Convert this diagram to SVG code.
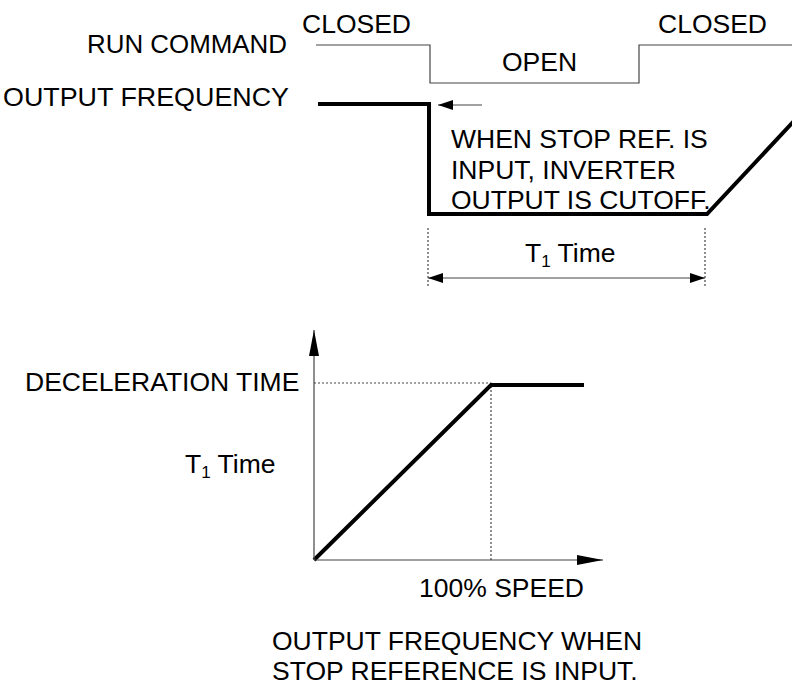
<svg xmlns="http://www.w3.org/2000/svg" width="792" height="686" viewBox="0 0 792 686">
<defs>
<style>
text{font-family:"Liberation Sans",Arial,sans-serif;font-size:26.5px;fill:#000}
.thin{fill:none;stroke:#444;stroke-width:1.2}
.thick{fill:none;stroke:#000;stroke-width:4;stroke-linejoin:miter}
.dot{fill:none;stroke:#444;stroke-width:1.2;stroke-dasharray:2 2}
.sub{font-size:17px}
</style>
<marker id="ah" markerUnits="userSpaceOnUse" markerWidth="16" markerHeight="12" refX="15" refY="5" orient="auto-start-reverse" viewBox="0 0 16 10">
<path d="M0,0 L15,5 L0,10 Z" fill="#000"/>
</marker>
<marker id="ax" markerUnits="userSpaceOnUse" markerWidth="28" markerHeight="12" refX="26" refY="5" orient="auto" viewBox="0 0 28 10">
<path d="M0,0 L26,5 L0,10 Z" fill="#000"/>
</marker>
</defs>
<rect width="792" height="686" fill="#fff"/>

<g id="labels">
<text x="87" y="53" textLength="200" lengthAdjust="spacingAndGlyphs">RUN COMMAND</text>
<text x="3" y="106" textLength="286" lengthAdjust="spacingAndGlyphs">OUTPUT FREQUENCY</text>
<text x="302" y="33">CLOSED</text>
<text x="658" y="33">CLOSED</text>
<text x="502" y="71">OPEN</text>
</g>

<g id="run-command">
<path class="thin" d="M316,45 H430 V83 H639 V45 H792"/>
</g>

<g id="output-frequency">
<path class="thick" d="M318,104 H429 V214 H707 L794,121"/>
</g>

<g id="cutoff-note">
<text x="451" y="148">WHEN STOP REF. IS</text>
<text x="451" y="179">INPUT, INVERTER</text>
<text x="451" y="209">OUTPUT IS CUTOFF.</text>
</g>

<g id="t1-dimension">
<path class="dot" d="M428,228 V287"/>
<path class="dot" d="M705,228 V287"/>
<text x="525" y="262">T<tspan class="sub" dy="5">1</tspan><tspan dy="-5"> Time</tspan></text>
</g>

<g id="graph">
<path class="dot" d="M314,383 H491 V560"/>
<path class="thick" d="M314,560 L491,385 H584"/>
<text x="25" y="391">DECELERATION TIME</text>
<text x="185" y="473">T<tspan class="sub" dy="5">1</tspan><tspan dy="-5"> Time</tspan></text>
<text x="419" y="597">100% SPEED</text>
</g>

<g id="caption">
<text x="272" y="650">OUTPUT FREQUENCY WHEN</text>
<text x="272" y="680">STOP REFERENCE IS INPUT.</text>
</g>

<g id="connectors">
<path class="thin" d="M482,105 H438" marker-end="url(#ah)"/>
<path class="thin" d="M428,278 H705" marker-start="url(#ah)" marker-end="url(#ah)"/>
<path class="thin" d="M314,560 V330" marker-end="url(#ax)"/>
<path class="thin" d="M314,560 H603" marker-end="url(#ax)"/>
</g>
</svg>
